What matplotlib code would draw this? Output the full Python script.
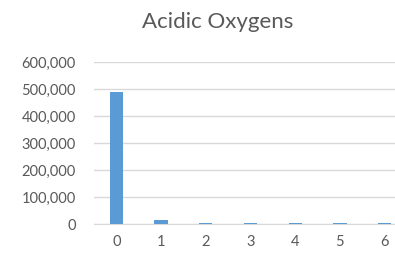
import matplotlib.pyplot as plt
from matplotlib.ticker import FuncFormatter

categories = ['0', '1', '2', '3', '4', '5', '6']
counts = [488000, 13000, 3500, 3500, 3500, 3500, 3500]
title = 'Acidic Oxygens'

plt.rcParams['font.family'] = ['Lato', 'DejaVu Sans']
fig = plt.figure(figsize=(3.95, 2.54), dpi=100)
ax = fig.add_axes([94 / 395, 30 / 254, 313 / 395, 162 / 254])

x = list(range(len(categories)))
ax.bar(x, counts, width=0.3, color='#5B9BD5', zorder=3)
ax.set_xlim(-0.5, 6.5)
ax.set_ylim(0, 600000)
ax.set_yticks(range(0, 600001, 100000))
ax.yaxis.set_major_formatter(FuncFormatter(lambda v, p: f'{int(v):,}'))
ax.set_xticks(x)
ax.set_xticklabels(categories)

ax.grid(axis='y', color='#D9D9D9', linewidth=1, zorder=0)
for s in ['top', 'right', 'left']:
    ax.spines[s].set_visible(False)
ax.spines['bottom'].set_color('#D9D9D9')
ax.tick_params(axis='both', length=0, labelsize=10.5, colors='#595959')
ax.tick_params(axis='y', pad=13)
ax.tick_params(axis='x', pad=8)

fig.text(0.5 + 20 / 395, 1 - 22 / 254, title, ha='center', va='center',
         fontsize=16, color='#595959')

fig.savefig('out.png', dpi=100)
